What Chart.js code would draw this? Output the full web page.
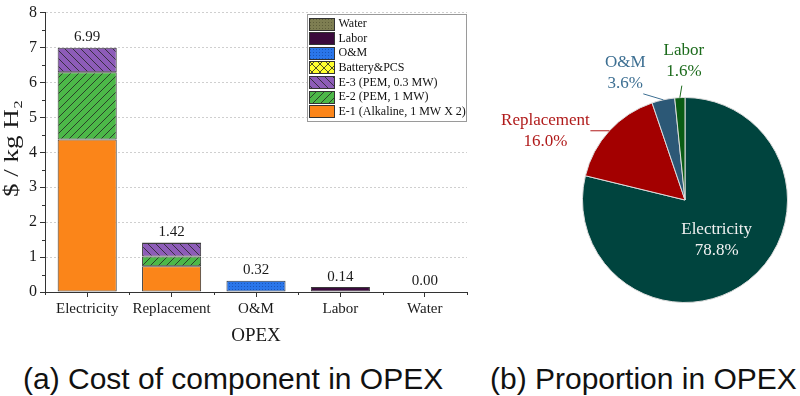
<!DOCTYPE html>
<html>
<head>
<meta charset="utf-8">
<script src="https://cdn.jsdelivr.net/npm/chart.js@4.4.1/dist/chart.umd.min.js"></script>
<style>
html, body { margin: 0; padding: 0; background: #fff; }
#wrap { position: relative; width: 800px; height: 396px; overflow: hidden; }
#bar { position: absolute; left: 0; top: 0; }
#pie { position: absolute; left: 480px; top: 0; }
.cap { position: absolute; top: 364px; font-family: "Liberation Sans", Arial, sans-serif;
       font-size: 30px; line-height: 30px; color: #111; white-space: nowrap; }
</style>
</head>
<body>
<div id="wrap">
  <canvas id="bar" width="480" height="350"></canvas>
  <canvas id="pie" width="320" height="350"></canvas>
  <div class="cap" style="left:23px">(a) Cost of component in OPEX</div>
  <div class="cap" style="left:490px">(b) Proportion in OPEX</div>
</div>
<script>
// ---- data ----
const categories = ['Electricity', 'Replacement', 'O&M', 'Labor', 'Water'];
const e1Alkaline = [4.37, 0.74, 0, 0, 0];
const e2Pem1 = [1.92, 0.28, 0, 0, 0];
const e3Pem03 = [0.70, 0.38, 0, 0, 0];
const batteryPcs = [0, 0.02, 0, 0, 0];
const omCost = [0, 0, 0.32, 0, 0];
const laborCost = [0, 0, 0, 0.14, 0];
const waterCost = [0, 0, 0, 0, 0];
const yMin = 0, yMax = 8, yStep = 1;
const yTitle = '$ / kg H\u2082';

const pieLabels = ['Electricity', 'Replacement', 'O&M', 'Labor'];
const pieShares = [78.8, 16.0, 3.6, 1.6];

Chart.defaults.font.family = '"Liberation Serif", "Times New Roman", serif';
Chart.defaults.color = '#1a1a1a';

// ---- fill patterns ----
function hatch(bg, dir, s) {
  const c = document.createElement('canvas');
  c.width = c.height = s;
  const g = c.getContext('2d');
  g.fillStyle = bg; g.fillRect(0, 0, s, s);
  g.strokeStyle = '#222'; g.lineWidth = 0.8;
  g.beginPath();
  if (dir === '/' || dir === 'x') {
    g.moveTo(-1, s + 1); g.lineTo(s + 1, -1);
    g.moveTo(-1, 1); g.lineTo(1, -1);
    g.moveTo(s - 1, s + 1); g.lineTo(s + 1, s - 1);
  }
  if (dir === '\\' || dir === 'x') {
    g.moveTo(-1, -1); g.lineTo(s + 1, s + 1);
    g.moveTo(s - 1, -1); g.lineTo(s + 1, 1);
    g.moveTo(-1, s - 1); g.lineTo(1, s + 1);
  }
  g.stroke();
  return g.createPattern(c, 'repeat');
}
function dots(bg, dot) {
  const c = document.createElement('canvas');
  c.width = c.height = 3;
  const g = c.getContext('2d');
  g.fillStyle = bg; g.fillRect(0, 0, 3, 3);
  g.fillStyle = dot; g.fillRect(1, 1, 1, 1);
  return g.createPattern(c, 'repeat');
}

const barSets = [
  { label: 'E-1 (Alkaline, 1 MW X 2)', data: e1Alkaline, backgroundColor: '#fb8519' },
  { label: 'E-2 (PEM, 1 MW)', data: e2Pem1, backgroundColor: hatch('#4cb848', '/', 8) },
  { label: 'E-3 (PEM, 0.3 MW)', data: e3Pem03, backgroundColor: hatch('#8d5cb8', '\\', 8) },
  { label: 'Battery&PCS', data: batteryPcs, backgroundColor: hatch('#ffff2e', 'x', 8) },
  { label: 'O&M', data: omCost, backgroundColor: dots('#2a76ea', '#1a55b8') },
  { label: 'Labor', data: laborCost, backgroundColor: '#3a0a3c' },
  { label: 'Water', data: waterCost, backgroundColor: dots('#7e7e52', '#5e5e3a') },
].map(d => Object.assign(d, { borderColor: '#3a3a3a', borderWidth: 1, borderSkipped: false }));

// totals above the bars, minor ticks, y title, boxed legend
const barExtras = {
  id: 'barExtras',
  afterDraw(chart) {
    const ctx = chart.ctx, x = chart.scales.x, y = chart.scales.y, area = chart.chartArea;
    ctx.save();
    // totals
    ctx.font = '15px "Liberation Serif"';
    ctx.fillStyle = '#1a1a1a';
    ctx.textAlign = 'center';
    ctx.textBaseline = 'bottom';
    categories.forEach((c, i) => {
      const sum = chart.data.datasets.reduce((s, d) => s + d.data[i], 0);
      ctx.fillText(sum.toFixed(2), x.getPixelForValue(i), y.getPixelForValue(sum) - 3);
    });
    // y title, stretched along the axis like the original
    ctx.save();
    ctx.translate(13, (area.top + area.bottom) / 2 - 4);
    ctx.rotate(-Math.PI / 2);
    ctx.scale(1.35, 1);
    ctx.font = '20px "Liberation Serif"';
    ctx.textBaseline = 'middle';
    ctx.fillText(yTitle, 0, 0);
    ctx.restore();
    // minor ticks
    ctx.strokeStyle = '#333';
    ctx.lineWidth = 1;
    ctx.beginPath();
    for (let v = yMin + yStep / 2; v < yMax; v += yStep) {
      const py = Math.round(y.getPixelForValue(v)) + 0.5;
      ctx.moveTo(area.left - 3, py); ctx.lineTo(area.left, py);
    }
    for (let i = -0.5; i <= categories.length - 0.5; i += 1) {
      const px = Math.round(x.getPixelForValue(i)) + 0.5;
      ctx.moveTo(px, area.bottom); ctx.lineTo(px, area.bottom + 3);
    }
    ctx.stroke();
    // legend box
    const items = chart.data.datasets.slice().reverse();
    const bw = 159, rowH = 14.6, bh = 107;
    const bx = Math.round(area.right - 1 - bw) + 0.5, by = Math.round(area.top + 1) + 0.5;
    ctx.fillStyle = '#fff';
    ctx.fillRect(bx, by, bw, bh);
    ctx.strokeStyle = '#9a9a9a';
    ctx.strokeRect(bx, by, bw, bh);
    ctx.font = '12px "Liberation Serif"';
    ctx.textAlign = 'left';
    ctx.textBaseline = 'middle';
    items.forEach((d, k) => {
      const cy = by + 9 + k * rowH;
      ctx.fillStyle = d.backgroundColor;
      ctx.fillRect(bx + 2, Math.round(cy - 6), 25, 12);
      ctx.strokeStyle = '#333';
      ctx.strokeRect(bx + 2, Math.round(cy - 6) + 0.5, 25, 12);
      ctx.fillStyle = '#111';
      ctx.fillText(d.label, bx + 31, cy + 0.5);
    });
    ctx.restore();
  }
};

new Chart(document.getElementById('bar'), {
  type: 'bar',
  data: { labels: categories, datasets: barSets },
  options: {
    responsive: false,
    animation: false,
    layout: { padding: { top: 9, right: 13, left: 0, bottom: 0 } },
    datasets: { bar: { categoryPercentage: 1, barPercentage: 0.7 } },
    plugins: { legend: { display: false }, tooltip: { enabled: false } },
    scales: {
      x: {
        stacked: true,
        afterFit: s => { s.height = 58; },
        grid: { display: true, drawOnChartArea: false, offset: false, tickLength: 5, tickColor: '#333' },
        border: { color: '#333', width: 1 },
        ticks: { font: { size: 15 }, color: '#1a1a1a', padding: 3, maxRotation: 0 },
        title: { display: true, text: 'OPEX', font: { size: 19 }, color: '#1a1a1a', padding: { top: 0, bottom: 3 } }
      },
      y: {
        stacked: true,
        min: yMin, max: yMax,
        afterFit: s => { s.width = 45; },
        grid: { color: '#cfcfcf', lineWidth: 1, tickLength: 5, tickColor: '#333' },
        border: { color: '#333', width: 1, dash: [2, 2] },
        ticks: { stepSize: yStep, font: { size: 16 }, color: '#1a1a1a', padding: 3 }
      }
    }
  },
  plugins: [barExtras]
});

// ---- pie ----
const pieStyle = [
  { color: '#f2f2f2', inside: 0.5 },
  { color: '#b01a1a', lead: [-19, 0], text: [-64, 0.5] },
  { color: '#3d6f92', lead: [-20, -6], text: [-38, -26.5] },
  { color: '#1c6b1c', lead: [2, -12], text: [4, -37] },
];

const pieLabelsPlugin = {
  id: 'pieLabels',
  afterDraw(chart) {
    const ctx = chart.ctx;
    const arcs = chart.getDatasetMeta(0).data;
    ctx.save();
    ctx.font = '17px "Liberation Serif"';
    ctx.textAlign = 'center';
    ctx.textBaseline = 'middle';
    arcs.forEach((arc, i) => {
      const p = arc.getProps(['x', 'y', 'startAngle', 'endAngle', 'outerRadius'], true);
      const mid = (p.startAngle + p.endAngle) / 2;
      const st = pieStyle[i];
      const lines = [pieLabels[i], pieShares[i].toFixed(1) + '%'];
      let cx, cy;
      if (st.inside) {
        cx = p.x + Math.cos(mid) * p.outerRadius * st.inside;
        cy = p.y + Math.sin(mid) * p.outerRadius * st.inside;
      } else {
        const ex = p.x + Math.cos(mid) * p.outerRadius;
        const ey = p.y + Math.sin(mid) * p.outerRadius;
        ctx.strokeStyle = st.color;
        ctx.lineWidth = 1;
        ctx.beginPath();
        ctx.moveTo(ex, ey);
        ctx.lineTo(ex + st.lead[0], ey + st.lead[1]);
        ctx.stroke();
        cx = ex + st.text[0];
        cy = ey + st.text[1];
      }
      ctx.fillStyle = st.color;
      ctx.fillText(lines[0], cx, cy - 10.5);
      ctx.fillText(lines[1], cx, cy + 10.5);
    });
    ctx.restore();
  }
};

new Chart(document.getElementById('pie'), {
  type: 'pie',
  data: {
    labels: pieLabels,
    datasets: [{
      data: pieShares,
      backgroundColor: ['#00443e', '#a30000', '#2c5876', '#0a5c14'],
      borderColor: '#dcdcdc',
      borderWidth: 1
    }]
  },
  options: {
    responsive: false,
    animation: false,
    layout: { padding: { left: 102, right: 12, top: 97, bottom: 47 } },
    plugins: { legend: { display: false }, tooltip: { enabled: false } }
  },
  plugins: [pieLabelsPlugin]
});
</script>
</body>
</html>
